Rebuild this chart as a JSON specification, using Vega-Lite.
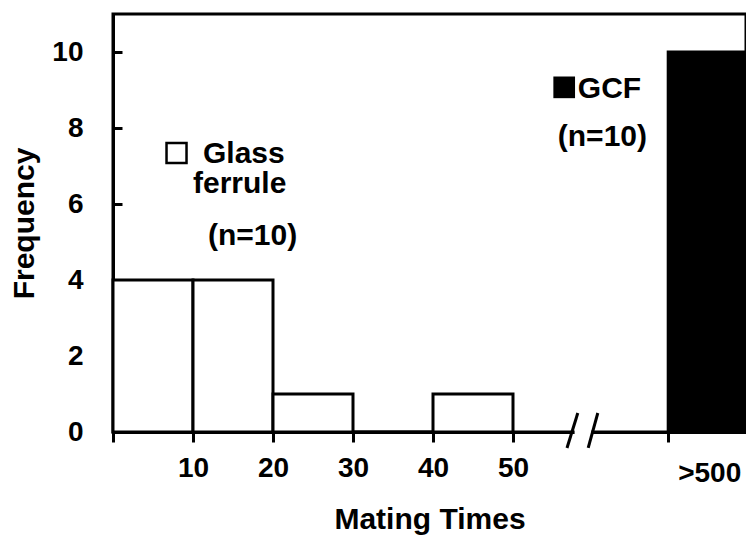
{
  "$schema": "https://vega.github.io/schema/vega-lite/v6.json",
  "width": 633,
  "height": 418,
  "autosize": {"type": "none"},
  "padding": {"left": 113, "top": 14, "right": 0, "bottom": 103},
  "background": "white",
  "config": {
    "view": {"stroke": "black", "strokeWidth": 3},
    "font": "Liberation Sans"
  },
  "layer": [
    {
      "data": {
        "values": [
          {"bin_start": 0, "bin_end": 10, "count": 4, "group": "Glass ferrule"},
          {"bin_start": 10, "bin_end": 20, "count": 4, "group": "Glass ferrule"},
          {"bin_start": 20, "bin_end": 30, "count": 1, "group": "Glass ferrule"},
          {"bin_start": 30, "bin_end": 40, "count": 0, "group": "Glass ferrule"},
          {"bin_start": 40, "bin_end": 50, "count": 1, "group": "Glass ferrule"},
          {"bin_start": 69.4, "bin_end": 79.125, "count": 10, "group": "GCF"}
        ]
      },
      "mark": {"type": "rect", "stroke": "black", "strokeWidth": 3},
      "encoding": {
        "x": {
          "field": "bin_start",
          "type": "quantitative",
          "scale": {"domain": [0, 79.125], "nice": false, "zero": false},
          "axis": {
            "title": "Mating Times",
            "values": [0, 10, 20, 30, 40, 50, 69.4],
            "labelExpr": "datum.value > 60 ? '>500' : (datum.value == 0 ? '' : datum.label)",
            "tickSize": 10,
            "tickWidth": 3,
            "tickColor": "black",
            "domainWidth": 3,
            "domainColor": "black",
            "labelFontSize": 28,
            "labelFontWeight": "bold",
            "labelColor": "black",
            "labelPadding": {"condition": {"test": "datum.value > 60", "value": 17}, "value": 12},
            "labelOffset": {"condition": {"test": "datum.value > 60", "value": 41}, "value": 0},
            "labelFlush": false,
            "labelOverlap": false,
            "titleFontSize": 30,
            "titleFontWeight": "bold",
            "titleColor": "black",
            "titlePadding": 17,
            "grid": false
          }
        },
        "x2": {"field": "bin_end"},
        "y": {
          "field": "count",
          "type": "quantitative",
          "scale": {"domain": [0, 11], "nice": false},
          "axis": {
            "title": "Frequency",
            "values": [0, 2, 4, 6, 8, 10],
            "tickSize": -9,
            "tickWidth": 3,
            "tickColor": "black",
            "domainWidth": 3,
            "domainColor": "black",
            "labelFontSize": 28,
            "labelFontWeight": "bold",
            "labelColor": "black",
            "labelPadding": 39,
            "titleFontSize": 30,
            "titleFontWeight": "bold",
            "titleColor": "black",
            "titlePadding": 12,
            "grid": false
          }
        },
        "y2": {"datum": 0},
        "fill": {
          "field": "group",
          "type": "nominal",
          "scale": {"domain": ["Glass ferrule", "GCF"], "range": ["white", "black"]},
          "legend": null
        }
      }
    },
    {
      "data": {"values": [{}]},
      "mark": {"type": "rule", "color": "white", "strokeWidth": 7},
      "encoding": {
        "x": {"datum": 57.7, "type": "quantitative"},
        "x2": {"datum": 59.8},
        "y": {"datum": 0, "type": "quantitative"}
      }
    },
    {
      "data": {"values": [{}]},
      "mark": {"type": "rule", "color": "black", "strokeWidth": 3},
      "encoding": {
        "x": {"datum": 56.75, "type": "quantitative"},
        "x2": {"datum": 58.1},
        "y": {"datum": -0.42, "type": "quantitative"},
        "y2": {"datum": 0.5}
      }
    },
    {
      "data": {"values": [{}]},
      "mark": {"type": "rule", "color": "black", "strokeWidth": 3},
      "encoding": {
        "x": {"datum": 59.4, "type": "quantitative"},
        "x2": {"datum": 60.6},
        "y": {"datum": -0.42, "type": "quantitative"},
        "y2": {"datum": 0.5}
      }
    },
    {
      "data": {"values": [{}]},
      "mark": {"type": "point", "shape": "square", "size": 400, "fill": "white", "stroke": "black", "strokeWidth": 2.5, "opacity": 1},
      "encoding": {
        "x": {"datum": 7.94, "type": "quantitative"},
        "y": {"datum": 7.34, "type": "quantitative"}
      }
    },
    {
      "data": {"values": [{}]},
      "mark": {"type": "point", "shape": "square", "size": 470, "filled": true, "color": "black", "opacity": 1},
      "encoding": {
        "x": {"datum": 56.4, "type": "quantitative"},
        "y": {"datum": 9.07, "type": "quantitative"}
      }
    },
    {
      "data": {"values": [{}]},
      "mark": {"type": "text", "align": "left", "baseline": "alphabetic", "fontSize": 30, "fontWeight": "bold", "color": "black"},
      "encoding": {
        "x": {"datum": 11.25, "type": "quantitative"},
        "y": {"datum": 7.08, "type": "quantitative"},
        "text": {"value": "Glass"}
      }
    },
    {
      "data": {"values": [{}]},
      "mark": {"type": "text", "align": "left", "baseline": "alphabetic", "fontSize": 30, "fontWeight": "bold", "color": "black"},
      "encoding": {
        "x": {"datum": 10.0, "type": "quantitative"},
        "y": {"datum": 6.29, "type": "quantitative"},
        "text": {"value": "ferrule"}
      }
    },
    {
      "data": {"values": [{}]},
      "mark": {"type": "text", "align": "left", "baseline": "alphabetic", "fontSize": 30, "fontWeight": "bold", "color": "black"},
      "encoding": {
        "x": {"datum": 11.875, "type": "quantitative"},
        "y": {"datum": 4.92, "type": "quantitative"},
        "text": {"value": "(n=10)"}
      }
    },
    {
      "data": {"values": [{}]},
      "mark": {"type": "text", "align": "left", "baseline": "alphabetic", "fontSize": 30, "fontWeight": "bold", "color": "black"},
      "encoding": {
        "x": {"datum": 58.1, "type": "quantitative"},
        "y": {"datum": 8.79, "type": "quantitative"},
        "text": {"value": "GCF"}
      }
    },
    {
      "data": {"values": [{}]},
      "mark": {"type": "text", "align": "left", "baseline": "alphabetic", "fontSize": 30, "fontWeight": "bold", "color": "black"},
      "encoding": {
        "x": {"datum": 55.6, "type": "quantitative"},
        "y": {"datum": 7.53, "type": "quantitative"},
        "text": {"value": "(n=10)"}
      }
    }
  ]
}
